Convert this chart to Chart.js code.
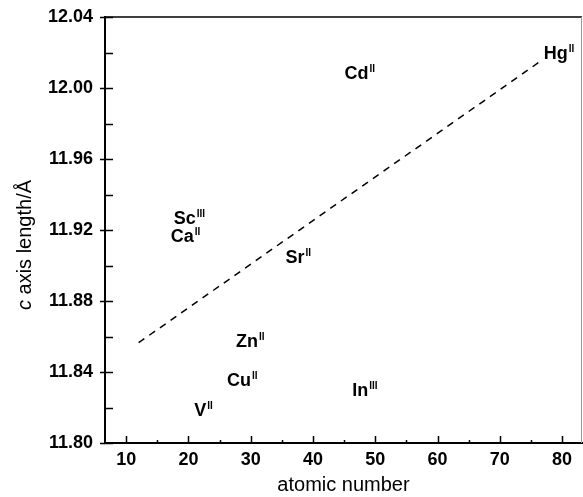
<!DOCTYPE html>
<html>
<head>
<meta charset="utf-8">
<script src="https://cdn.jsdelivr.net/npm/chart.js@4.4.0/dist/chart.umd.min.js"></script>
<style>
  html, body { margin: 0; padding: 0; background: #fff; }
  #wrap { width: 583px; height: 497px; }
</style>
</head>
<body>
<div id="wrap"><canvas id="chart" width="583" height="497"></canvas></div>
<script>
// labels sit where the reference puts them (centre of the element symbol)
const elements = ['V', 'Ca', 'Sc', 'Cu', 'Zn', 'Sr', 'Cd', 'In', 'Hg'];
const oxidation = ['II', 'II', 'III', 'II', 'II', 'II', 'II', 'III', 'II'];
const atomicNumber = [21.9, 19.0, 19.4, 28.1, 29.4, 37.1, 47.0, 47.6, 79.0];
const cAxisLength = [11.818, 11.916, 11.926, 11.835, 11.857, 11.904, 12.008, 11.829, 12.019];

// dashed fit line, two ends
const fitX = [12, 76.7];
const fitY = [11.8565, 12.0155];

const xTicks = [10, 20, 30, 40, 50, 60, 70, 80];
const yTicks = [11.80, 11.84, 11.88, 11.92, 11.96, 12.00, 12.04];

const FONT = '"Liberation Sans", Arial, Helvetica, sans-serif';

// draws frame, inward ticks, point labels and the y title
const decor = {
    id: 'decor',
    afterDraw(chart) {
        const ctx = chart.ctx;
        const area = chart.chartArea;
        const xs = chart.scales.x;
        const ys = chart.scales.y;
        ctx.save();

        // top and right frame
        ctx.strokeStyle = '#000';
        ctx.lineWidth = 1.5;
        ctx.beginPath();
        ctx.moveTo(area.left, area.top);
        ctx.lineTo(area.right, area.top);
        ctx.stroke();
        ctx.strokeStyle = '#999';
        ctx.lineWidth = 1;
        ctx.beginPath();
        ctx.moveTo(area.right - 0.5, area.top);
        ctx.lineTo(area.right - 0.5, area.bottom);
        ctx.stroke();

        // tick marks
        ctx.strokeStyle = '#000';
        ctx.lineWidth = 1.5;
        ctx.beginPath();
        for (let v = 11.80; v <= 12.0401; v += 0.02) {
            const py = Math.round(ys.getPixelForValue(v)) + 0.5;
            const major = Math.round(v * 100) % 4 === 0;
            ctx.moveTo(area.left - (major ? 5 : 0), py);
            ctx.lineTo(area.left + 8, py);
        }
        for (let v = 10; v <= 80; v += 5) {
            const px = Math.round(xs.getPixelForValue(v)) + 0.5;
            const major = v % 10 === 0;
            ctx.moveTo(px, area.bottom);
            ctx.lineTo(px, area.bottom - (major ? 7 : 3));
        }
        ctx.stroke();

        // element labels with superscript oxidation state
        const meta = chart.getDatasetMeta(0);
        ctx.fillStyle = '#000';
        ctx.textBaseline = 'middle';
        meta.data.forEach((pt, i) => {
            ctx.font = 'bold 18px ' + FONT;
            ctx.textAlign = 'center';
            const w = ctx.measureText(elements[i]).width;
            ctx.fillText(elements[i], pt.x, pt.y);
            ctx.font = 'bold 10px ' + FONT;
            ctx.textAlign = 'left';
            ctx.fillText(oxidation[i], pt.x + w / 2 + 1, pt.y - 5);
        });

        // y axis title, italic c
        ctx.translate(25, 245);
        ctx.rotate(-Math.PI / 2);
        ctx.textBaseline = 'middle';
        ctx.font = 'italic 20px ' + FONT;
        const cw = ctx.measureText('c ').width;
        ctx.font = '20px ' + FONT;
        const rw = ctx.measureText('axis length/Å').width;
        const start = -(cw + rw) / 2;
        ctx.textAlign = 'left';
        ctx.font = 'italic 20px ' + FONT;
        ctx.fillText('c ', start, 0);
        ctx.font = '20px ' + FONT;
        ctx.fillText('axis length/Å', start + cw, 0);
        ctx.restore();
    }
};

new Chart(document.getElementById('chart').getContext('2d'), {
    type: 'scatter',
    data: {
        datasets: [{
            data: atomicNumber.map((x, i) => ({ x: x, y: cAxisLength[i] })),
            pointRadius: 0,
            pointHoverRadius: 0
        }, {
            type: 'line',
            data: fitX.map((x, i) => ({ x: x, y: fitY[i] })),
            borderColor: '#000',
            borderWidth: 1.5,
            borderDash: [7, 6],
            pointRadius: 0,
            fill: false
        }]
    },
    options: {
        responsive: false,
        animation: false,
        layout: { padding: { top: 17, right: 1, left: 0, bottom: 0 } },
        plugins: { legend: { display: false }, tooltip: { enabled: false } },
        scales: {
            x: {
                type: 'linear',
                min: 6.6,
                max: 83.2,
                afterBuildTicks: s => { s.ticks = xTicks.map(v => ({ value: v })); },
                afterFit: s => { s.height = 54; s.paddingLeft = 0; s.paddingRight = 0; },
                ticks: {
                    color: '#000',
                    font: { family: FONT, size: 18, weight: 'bold' },
                    padding: 6,
                    maxRotation: 0
                },
                grid: { display: false, drawTicks: false },
                border: { display: true, color: '#000', width: 2 },
                title: {
                    display: true,
                    text: 'atomic number',
                    color: '#000',
                    font: { family: FONT, size: 20 },
                    padding: { top: 0, bottom: 0 }
                }
            },
            y: {
                min: 11.80,
                max: 12.04,
                afterBuildTicks: s => { s.ticks = yTicks.map(v => ({ value: v })); },
                afterFit: s => { s.width = 105; s.paddingTop = 0; s.paddingBottom = 0; },
                ticks: {
                    color: '#000',
                    font: { family: FONT, size: 18, weight: 'bold' },
                    padding: 12,
                    callback: v => v.toFixed(2)
                },
                grid: { display: false, drawTicks: false },
                border: { display: true, color: '#000', width: 2 }
            }
        }
    },
    plugins: [decor]
});
</script>
</body>
</html>
